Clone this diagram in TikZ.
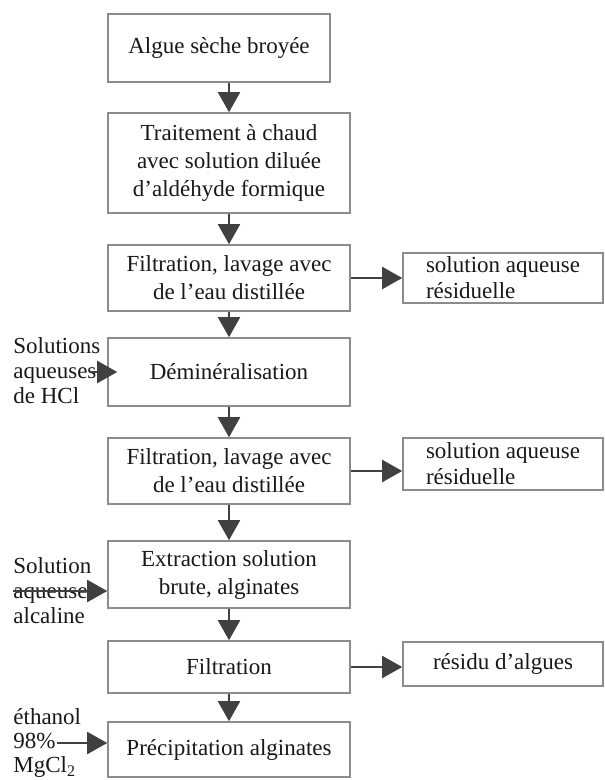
\documentclass[tikz,border=0pt]{standalone}
\usepackage{fontspec}
\setmainfont{Liberation Serif}
\usetikzlibrary{arrows.meta}
\tikzstyle{boite}=[rectangle,draw=black!45,line width=.8pt,minimum width=121pt,align=center,inner sep=2pt,text=black!90,font=\fontsize{11.5}{14}\selectfont]
\tikzstyle{cote}=[rectangle,draw=black!45,line width=.8pt,minimum width=100pt,align=left,inner sep=0pt,text=black!90,font=\fontsize{11.5}{13}\selectfont]
\tikzstyle{entree}=[anchor=west,align=left,inner sep=0pt,text=black!90,font=\fontsize{11.5}{12.5}\selectfont]
\tikzstyle{fleche}=[-{Triangle[length=10pt,width=11pt]},line width=1pt,draw=black!75,fill=black!75]

\begin{document}
\begin{tikzpicture}[x=0.5pt,y=-0.5pt]
		\useasboundingbox[fill=white] (0,0) rectangle (604,780);
		% colonne principale
		\node[boite,minimum width=111pt,minimum height=34pt] (alg) at (219,48) {Algue sèche broyée};
		\node[boite,minimum height=50pt] (trait) at (229,163) {Traitement à chaud\\avec solution diluée\\d’aldéhyde formique};
		\node[boite,minimum height=33pt] (filt1) at (229,278) {Filtration, lavage avec\\de l’eau distillée};
		\node[boite,minimum height=34pt] (demin) at (229,372) {Déminéralisation};
		\node[boite,minimum height=33pt] (filt2) at (229,471) {Filtration, lavage avec\\de l’eau distillée};
		\node[boite,minimum height=33.5pt] (extr) at (229,574.5) {Extraction solution\\brute, alginates};
		\node[boite,minimum height=26pt] (filt3) at (229,667) {Filtration};
		\node[boite,minimum height=27.5pt] (prec) at (229,749.5) {Précipitation alginates};
		% sorties
		\node[cote,minimum height=25pt] (res1) at (503,278) {solution aqueuse\\résiduelle};
		\node[cote,minimum height=26pt] (res2) at (503,464) {solution aqueuse\\résiduelle};
		\node[cote,minimum height=22pt] (res3) at (503,664) {résidu d’algues};
		% entrees
		\node[entree] (hcl) at (13,371) {Solutions\\aqueuses\\de HCl};
		\node[entree] (alc) at (13,591) {Solution\\aqueuse\\alcaline};
		\node[entree,font=\fontsize{11.5}{12}\selectfont] (eth) at (13,743) {éthanol\\98\%\\MgCl\textsubscript{2}};
		\coordinate (hcldep) at ([xshift=-6pt]hcl.east);
		\coordinate (ethdep) at ([xshift=22pt]eth.west);
		% fleches
		\draw[fleche] (alg.south -| trait.north) -- (trait.north);
		\draw[fleche] (trait.south) -- (filt1.north);
		\draw[fleche] (filt1.south) -- (demin.north);
		\draw[fleche] (demin.south) -- (filt2.north);
		\draw[fleche] (filt2.south) -- (extr.north);
		\draw[fleche] (extr.south) -- (filt3.north);
		\draw[fleche] (filt3.south) -- (prec.north);
		\draw[fleche] (filt1.east) -- (filt1.east -| res1.west);
		\draw[fleche] (filt2.east) -- (filt2.east -| res2.west);
		\draw[fleche] (filt3.east) -- (filt3.east -| res3.west);
		\draw[fleche,shorten >=-5pt] (hcldep |- demin.west) -- (demin.west);
		\draw[fleche] (alc.west) -- (alc.west -| extr.west);
		\draw[fleche] (ethdep) -- (ethdep -| prec.west);
	\end{tikzpicture}
\end{document}
